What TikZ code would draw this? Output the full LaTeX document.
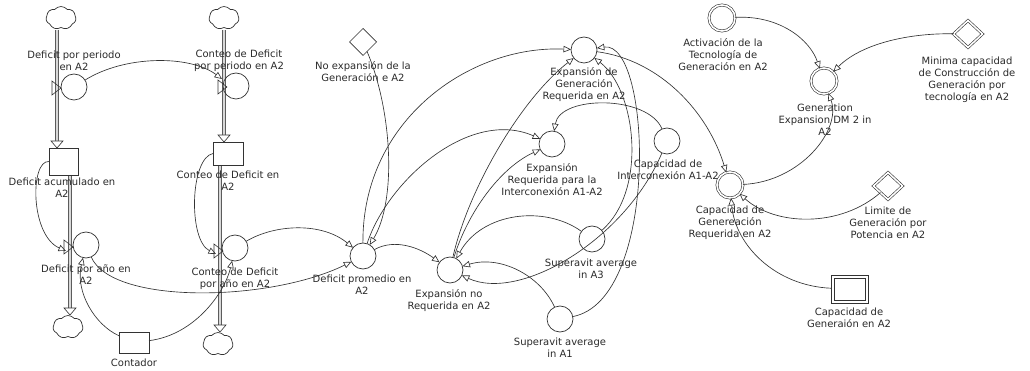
\documentclass[tikz,border=0pt]{standalone}
\usepackage{fontspec}
\setmainfont{DejaVu Sans}
\usetikzlibrary{shapes.geometric,shapes.symbols,arrows.meta,calc}
\definecolor{ln}{HTML}{333333}
\definecolor{txt}{HTML}{2A2A2A}
\definecolor{pipefill}{HTML}{D8D8D8}
\begin{document}
\begin{tikzpicture}[x=1pt,y=-1pt,
  every node/.style={inner sep=0pt,outer sep=0pt},
  lbl/.style={align=center,font=\fontsize{10}{12}\selectfont,text=txt},
  aux/.style={circle,draw=ln,line width=0.7pt,minimum size=26pt},
  dblaux/.style={circle,draw=ln,double=white,double distance=1.6pt,line width=0.6pt,minimum size=26pt},
  stockbox/.style={rectangle,draw=ln,line width=0.7pt,minimum width=29pt,minimum height=27pt},
  constd/.style={diamond,draw=ln,line width=0.7pt,minimum width=27pt,minimum height=27pt},
  dblconst/.style={diamond,draw=ln,double=white,double distance=1.6pt,line width=0.6pt,minimum width=29pt,minimum height=27pt},
  cloudnode/.style={cloud,cloud puffs=7,cloud puff arc=100,aspect=1.3,draw=ln,line width=0.7pt,minimum width=30pt,minimum height=23pt},
  pipe/.style={draw=ln!80,double=pipefill,double distance=2pt,line width=0.6pt},
  pipehead/.style={draw=ln,line width=0.6pt,fill=white},
  valve/.style={draw=ln,line width=0.6pt},
  conn/.style={draw=ln,line width=0.65pt,-{Triangle[open,length=7.5pt,width=6.5pt]}},
]
\useasboundingbox (0,0) rectangle (1030,371);

% ---------- clouds ----------
\node[cloudnode] (cl1) at (61,18) {};
\node[cloudnode] (cl2) at (224,18) {};
\node[cloudnode] (cl1b) at (68,327) {};
\node[cloudnode] (cl2b) at (218,344) {};

% ---------- pipe coordinates ----------
\coordinate (p1a) at (57,30);   \coordinate (p1b) at (57,141);
\coordinate (p1c) at (70,175);  \coordinate (p1d) at (70,308);
\coordinate (p2a) at (224,30);  \coordinate (p2b) at (224,135);
\coordinate (p2c) at (220,165); \coordinate (p2d) at (220,325);
\draw[pipe] (p1a) -- (p1b);
\draw[pipe] (p1c) -- (p1d);
\draw[pipe] (p2a) -- (p2b);
\draw[pipe] (p2c) -- (p2d);
\draw[pipehead] ($(p1b)+(-6,0)$) -- ($(p1b)+(6,0)$) -- ($(p1b)+(0,7)$) -- cycle;
\draw[pipehead] ($(p1d)+(-6,0)$) -- ($(p1d)+(6,0)$) -- ($(p1d)+(0,7)$) -- cycle;
\draw[pipehead] ($(p2b)+(-6,0)$) -- ($(p2b)+(6,0)$) -- ($(p2b)+(0,7)$) -- cycle;
\draw[pipehead] ($(p2d)+(-6,0)$) -- ($(p2d)+(6,0)$) -- ($(p2d)+(0,7)$) -- cycle;

% ---------- valves ----------
\coordinate (v1u) at (57,88);
\coordinate (v1l) at (69,247);
\coordinate (v2u) at (223,87);
\coordinate (v2l) at (219,251);
\draw[valve] ($(v1u)+(-5,-7)$) -- ($(v1u)+(-5,7)$) -- ($(v1u)+(4,0)$) -- cycle;
\draw[valve] ($(v1l)+(-5,-7)$) -- ($(v1l)+(-5,7)$) -- ($(v1l)+(4,0)$) -- cycle;
\draw[valve] ($(v2u)+(-5,-7)$) -- ($(v2u)+(-5,7)$) -- ($(v2u)+(4,0)$) -- cycle;
\draw[valve] ($(v2l)+(-5,-7)$) -- ($(v2l)+(-5,7)$) -- ($(v2l)+(4,0)$) -- cycle;

% ---------- stocks ----------
\node[stockbox] (st1) at (63.5,161.5) {};
\node[stockbox,minimum width=30pt,minimum height=23pt] (st2) at (228,153.5) {};
\node[stockbox,minimum width=30pt,minimum height=21pt] (cont) at (134,342.5) {};
\node[stockbox,line width=0.6pt,minimum width=37pt,minimum height=28pt] (capgen) at (850,289) {};
\node[stockbox,line width=0.6pt,minimum width=31pt,minimum height=22pt] (capgenin) at (capgen.center) {};

% ---------- auxiliaries ----------
\node[aux] (f1u) at (74,87) {};
\node[aux] (f2u) at (236,86) {};
\node[aux] (f1l) at (86,245) {};
\node[aux] (f2l) at (235,248) {};
\node[constd] (nx) at (363,42) {};
\node[aux] (eg) at (584,50) {};
\node[aux] (ei) at (552,144) {};
\node[aux] (ci) at (667,141) {};
\node[aux] (dp) at (363,256) {};
\node[aux] (en) at (450,270) {};
\node[aux] (s3) at (592,239) {};
\node[aux] (s1) at (560,319) {};
\node[dblaux] (act) at (722,18) {};
\node[dblaux] (gx) at (824,81) {};
\node[dblconst] (mini) at (968,34) {};
\node[dblaux] (cg) at (730,185) {};
\node[dblconst] (limi) at (888,186) {};

% ---------- labels ----------
\node[lbl] (lf1u) at (74,61) {Deficit por periodo\\en A2};
\node[lbl] (lf2u) at (239,61) {Conteo de Deficit\\por periodo en A2};
\node[lbl] (lst1) at (62,188) {Deficit acumulado en\\A2};
\node[lbl] (lst2) at (228,181) {Conteo de Deficit en\\A2};
\node[lbl] (lf1l) at (86,275) {Deficit por año en\\A2};
\node[lbl] (lf2l) at (235,279) {Conteo de Deficit\\por año en A2};
\node[lbl] (lcont) at (134,363) {Contador};
\node[lbl] (lnx) at (363,72) {No expansión de la\\Generación e A2};
\node[lbl] (leg) at (584,85) {Expansión de\\Generación\\Requerida en A2};
\node[lbl] (lei) at (552,180) {Expansión\\Requerida para la\\Interconexión A1-A2};
\node[lbl] (lci) at (668,170) {Capacidad de\\Interconexión A1-A2};
\node[lbl] (ldp) at (362,285) {Deficit promedio en\\A2};
\node[lbl] (len) at (449,301) {Expansión no\\Requerida en A2};
\node[lbl] (ls3) at (591,269) {Superavit average\\in A3};
\node[lbl] (ls1) at (560,348) {Superavit average\\in A1};
\node[lbl] (lact) at (723,55) {Activación de la\\Tecnología de\\Generación en A2};
\node[lbl] (lgx) at (825,120) {Generation\\Expansion DM 2 in\\A2};
\node[lbl] (lmini) at (967,80) {Minima capacidad\\de Construcción de\\Generación por\\tecnología en A2};
\node[lbl] (lcg) at (730,223) {Capacidad de\\Genereación\\Requerida en A2};
\node[lbl] (llimi) at (888,223) {Limite de\\Generación por\\Potencia en A2};
\node[lbl] (lcapgen) at (849,318) {Capacidad de\\Generaión en A2};

% ---------- connectors ----------
\coordinate (t2u) at (222,79);
\coordinate (t1l) at (66,251);
\coordinate (t2l) at (216,254);
\draw[conn] (f1u) .. controls (125,55) and (190,55) .. (t2u);
\draw[conn] (st1.west) .. controls (30,160) and (30,235) .. (t1l);
\draw[conn] (st2.west) .. controls (190,158) and (188,240) .. (t2l);
\draw[conn] (cont) .. controls (95,325) and (75,292) .. (f1l);
\draw[conn] (cont) .. controls (195,335) and (225,292) .. (f2l);
\draw[conn] (f1l) .. controls (112,305) and (270,302) .. (dp);
\draw[conn] (f2l) .. controls (275,224) and (322,222) .. (dp);
\draw[conn] (nx) .. controls (392,110) and (397,200) .. (dp);
\draw[conn] (dp) .. controls (362,120) and (470,45) .. (eg);
\draw[conn] (dp) .. controls (388,180) and (470,108) .. (ei);
\draw[conn] (dp) .. controls (395,238) and (420,248) .. (en);
\draw[conn] (en) .. controls (468,190) and (520,100) .. (eg);
\draw[conn] (en) .. controls (468,212) and (500,168) .. (ei);
\draw[conn] (ci) .. controls (648,95) and (560,95) .. (ei);
\draw[conn] (ci) .. controls (625,240) and (520,302) .. (en);
\draw[conn] (s3) .. controls (545,205) and (482,212) .. (en);
\draw[conn] (s1) .. controls (540,275) and (500,255) .. (en);
\draw[conn] (s3) .. controls (648,190) and (636,90) .. (eg);
\draw[conn] (s1) .. controls (660,300) and (652,40) .. (eg);
\draw[conn] (eg) .. controls (660,60) and (708,112) .. (cg);
\draw[conn] (act) .. controls (780,15) and (810,40) .. (gx);
\draw[conn] (mini) .. controls (905,33) and (860,45) .. (gx);
\draw[conn] (cg) .. controls (800,182) and (842,130) .. (gx);
\draw[conn] (limi) .. controls (840,228) and (775,226) .. (cg);
\draw[conn] (capgen) .. controls (775,286) and (735,245) .. (cg);
\end{tikzpicture}
\end{document}
